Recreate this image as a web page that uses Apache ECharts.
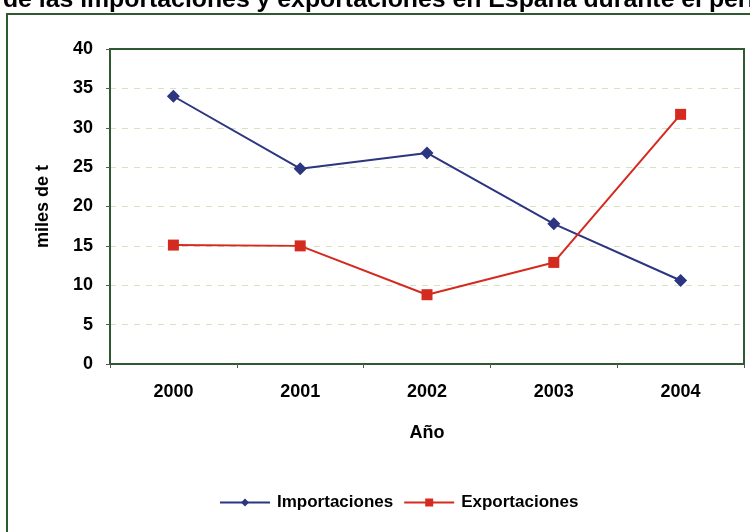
<!DOCTYPE html>
<html><head><meta charset="utf-8">
<script src="https://cdn.jsdelivr.net/npm/echarts@6/dist/echarts.min.js"></script>
<style>html,body{margin:0;padding:0;background:#fff}#c{width:750px;height:532px}</style>
</head><body><div id="c"></div>
<script>
const categories = ['2000','2001','2002','2003','2004'];
const importaciones = [34.0, 24.8, 26.8, 17.8, 10.6];
const exportaciones = [15.1, 15.0, 8.8, 12.9, 31.7];
const yTicks = [0,5,10,15,20,25,30,35,40];
const titleText = 'Evolución de las importaciones y exportaciones en España durante el período 2000-2004';

const FONT = 'Liberation Sans, Arial, sans-serif';
// fit the (partly cut-off) title to the reference position
const ctx = document.createElement('canvas').getContext('2d');
function tw(s, size){ ctx.font = 'bold ' + size + 'px ' + FONT; return ctx.measureText(s).width; }
const mid = 'importaciones y exportaciones en España durante el';
const titleSize = 20 * 622 / tw(mid, 20);
const titleLeft = 80 - tw('Evolución de las ', titleSize);

const chart = echarts.init(document.getElementById('c'));
chart.setOption({
  animation: false,
  backgroundColor: '#fff',
  graphic: [
    {type:'text', x: titleLeft, y: -12, style:{text: titleText, font: 'bold ' + titleSize.toFixed(2) + 'px ' + FONT, fill:'#000'}},
    {type:'rect', shape:{x:7, y:14, width:800, height:600}, style:{fill:'none', stroke:'#2f5a2f', lineWidth:2}}
  ],
  grid: {left:110, right:6, top:49, bottom:168, show:true, borderColor:'#2f5a2f', borderWidth:2, backgroundColor:'transparent'},
  legend: {
    top: 489, left: 214, itemWidth: 50, itemHeight: 10, itemGap: 10,
    textStyle:{fontFamily: FONT, fontSize:17, fontWeight:'bold', color:'#000', padding:[0,0,0,2]},
    data:['Importaciones','Exportaciones']
  },
  xAxis: {
    type:'category', data: categories, boundaryGap:true,
    name:'Año', nameLocation:'middle', nameGap: 60,
    nameTextStyle:{fontFamily:FONT, fontSize:18, fontWeight:'bold', color:'#000'},
    axisLine:{show:true, lineStyle:{color:'#2f5a2f', width:2}},
    axisTick:{show:true, length:4, lineStyle:{color:'#555'}},
    axisLabel:{fontFamily:FONT, fontSize:18, fontWeight:'bold', color:'#000', margin:19}
  },
  yAxis: {
    type:'value', min:0, max:40, interval:5,
    name:'miles de t', nameLocation:'middle', nameGap: 58, nameRotate: 90,
    nameTextStyle:{fontFamily:FONT, fontSize:18, fontWeight:'bold', color:'#000'},
    axisLine:{show:true, lineStyle:{color:'#2f5a2f', width:2}},
    axisTick:{show:true, length:4, lineStyle:{color:'#555'}},
    axisLabel:{fontFamily:FONT, fontSize:18, fontWeight:'bold', color:'#000', margin:17,
      formatter: v => yTicks.includes(v) ? String(v) : ''},
    splitLine:{show:true, showMinLine:false, showMaxLine:false, lineStyle:{color:'#d2e3bd', type:[6,6], width:1}}
  },
  series: [
    {name:'Importaciones', type:'line', data: importaciones, symbol:'diamond', symbolSize:13,
      lineStyle:{color:'#2b3580', width:2}, itemStyle:{color:'#2b3580'}},
    {name:'Exportaciones', type:'line', data: exportaciones, symbol:'rect', symbolSize:11,
      lineStyle:{color:'#d42a1f', width:2}, itemStyle:{color:'#d42a1f'}}
  ]
});
</script></body></html>
